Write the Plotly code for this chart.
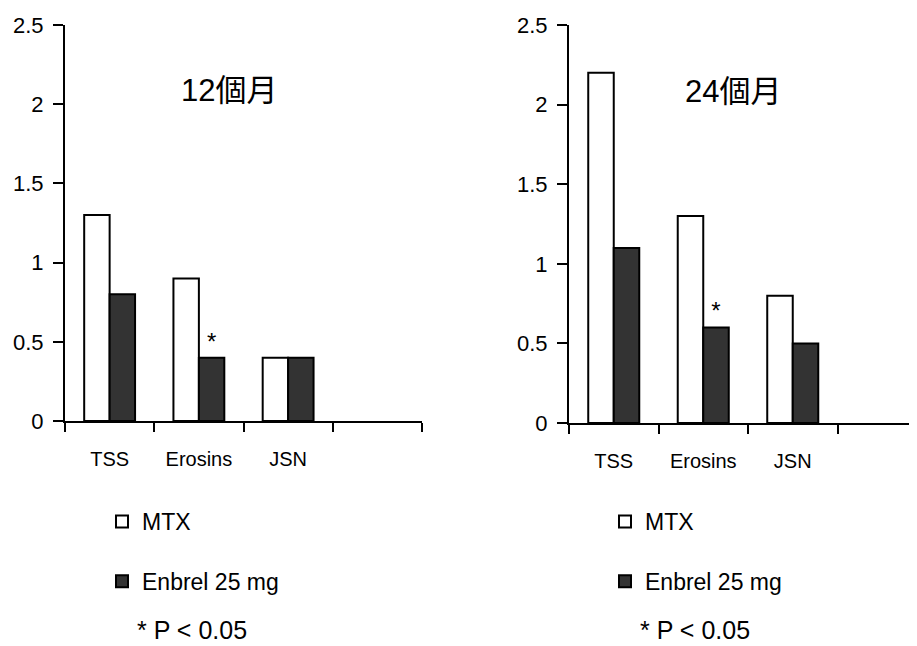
import plotly.graph_objects as go

categories = ["TSS", "Erosins", "JSN"]
axis_categories = ["TSS", "Erosins", "JSN", " "]
mtx_12 = [1.3, 0.9, 0.4]
enbrel_12 = [0.8, 0.4, 0.4]
mtx_24 = [2.2, 1.3, 0.8]
enbrel_24 = [1.1, 0.6, 0.5]
sig_12 = ["", "*", ""]
sig_24 = ["", "*", ""]
titles = ["12個月", "24個月"]
series_names = ["MTX", "Enbrel 25 mg"]
note = "* P < 0.05"

FONT = "Arial, 'Liberation Sans', 'Noto Sans CJK TC', sans-serif"
W, H = 917, 646
OFF = 8  # page body margin offset of the figure inside the window


def px(v):
    return v - OFF


fig = go.Figure()


def add_pair(mtx, enb, sig, xa, ya, leg):
    fig.add_trace(go.Bar(
        x=categories, y=mtx, name=series_names[0], xaxis=xa, yaxis=ya,
        marker=dict(color="white", line=dict(color="black", width=2)),
        legend=leg, legendgroup=leg + "a", showlegend=True,
    ))
    fig.add_trace(go.Bar(
        x=categories, y=enb, name=series_names[1], xaxis=xa, yaxis=ya,
        marker=dict(color="#333333", line=dict(color="black", width=2)),
        text=sig, textposition="outside", cliponaxis=False, constraintext="none",
        textfont=dict(size=24, color="black", family=FONT),
        legend=leg, legendgroup=leg + "b", showlegend=True,
    ))


add_pair(mtx_12, enbrel_12, sig_12, "x", "y", "legend")
add_pair(mtx_24, enbrel_24, sig_24, "x2", "y2", "legend2")

xcommon = dict(
    type="category", categoryorder="array", categoryarray=axis_categories,
    tickson="boundaries", ticks="outside", ticklen=9, tickwidth=2, tickcolor="black",
    showline=True, linecolor="black", linewidth=2, showgrid=False, zeroline=False,
    tickfont=dict(size=20, family=FONT, color="black"), ticklabelstandoff=19,
    automargin=False,
)
ycommon = dict(
    range=[0, 2.5], dtick=0.5, ticks="outside", ticklen=10, tickwidth=2, tickcolor="black",
    showline=True, linecolor="black", linewidth=2, showgrid=False, zeroline=False,
    tickfont=dict(size=22, family=FONT, color="black"), ticklabelstandoff=5,
    automargin=False,
)


def legend_at(x_px):
    return dict(x=px(x_px) / W, y=1 - px(500) / H, xanchor="left", yanchor="top",
                traceorder="grouped", tracegroupgap=27, bgcolor="rgba(0,0,0,0)",
                font=dict(size=23, family=FONT, color="black"))


def label(text, x_px, y_px, size, xanchor="center"):
    return dict(text=text, x=px(x_px) / W, y=1 - px(y_px) / H, xref="paper", yref="paper",
                xanchor=xanchor, yanchor="middle", showarrow=False,
                font=dict(size=size, family=FONT, color="black"))


fig.update_layout(
    template="none",
    width=W, height=H,
    margin=dict(l=0, r=0, t=0, b=0, pad=0, autoexpand=False),
    paper_bgcolor="white", plot_bgcolor="white",
    barmode="group", bargap=0.43, bargroupgap=0,
    font=dict(family=FONT, color="black"),
    xaxis=dict(domain=[px(65) / W, px(422) / W], range=[-0.5, 3.5], anchor="y", **xcommon),
    yaxis=dict(domain=[1 - px(421) / H, 1 - px(25) / H], anchor="x", **ycommon),
    xaxis2=dict(domain=[px(569) / W, 1.0], range=[-0.5, -0.5 + (W - px(569)) / 89.5],
                anchor="y2", **xcommon),
    yaxis2=dict(domain=[1 - px(423) / H, 1 - px(25) / H], anchor="x2", **ycommon),
    legend=legend_at(102),
    legend2=legend_at(605),
    annotations=[
        label(titles[0], 229, 90, 31),
        label(titles[1], 733, 91, 31),
        label(note, 135, 630, 25, "left"),
        label(note, 638, 630, 25, "left"),
    ],
)

fig.write_html("out.html")
